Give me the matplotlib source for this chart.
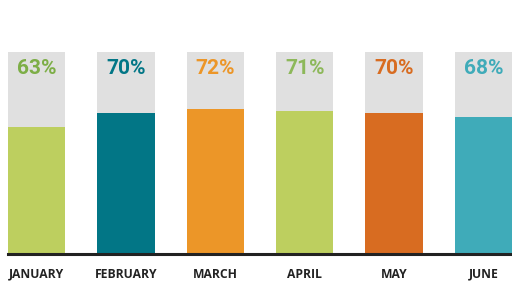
import matplotlib.pyplot as plt
import numpy as np

months = ["JANUARY", "FEBRUARY", "MARCH", "APRIL", "MAY", "JUNE"]
values = [63, 70, 72, 71, 70, 68]
bar_colors = ["#BDCF5F", "#027686", "#EC9628", "#BDCF5F", "#D86C21", "#3FABB9"]
label_colors = ["#7DAE47", "#027686", "#EC9628", "#8DB85A", "#D86C21", "#3FABB9"]

fig = plt.figure(figsize=(5.12, 2.88), dpi=100)
W, H = 512, 288
ax = fig.add_axes([8 / W, (H - 254) / H, 504 / W, 202 / H])

x = np.arange(len(months))
width = 0.64

# grey background bars = 100%
ax.bar(x, [100] * len(x), width, color="#E0E0E0", zorder=1)
ax.bar(x, values, width, color=bar_colors, zorder=2)

for xi, v, c in zip(x, values, label_colors):
    ax.text(xi, 92, f"{v}%", ha="center", va="center", color=c,
            fontsize=15, fontweight="bold", family="Roboto", zorder=3)

ax.set_xlim(-width / 2, len(x) - 1 + width / 2)
ax.set_ylim(0, 100)
ax.set_xticks(x)
ax.set_xticklabels(months, fontsize=8.7, fontweight="bold", family="Open Sans", color="#222222")
ax.tick_params(axis="x", length=0, pad=10)
ax.set_yticks([])

for s in ["top", "left", "right"]:
    ax.spines[s].set_visible(False)
ax.spines["bottom"].set_linewidth(2.2)
ax.spines["bottom"].set_color("#222222")
ax.spines["bottom"].set_zorder(4)

fig.savefig("out.png", dpi=100)
